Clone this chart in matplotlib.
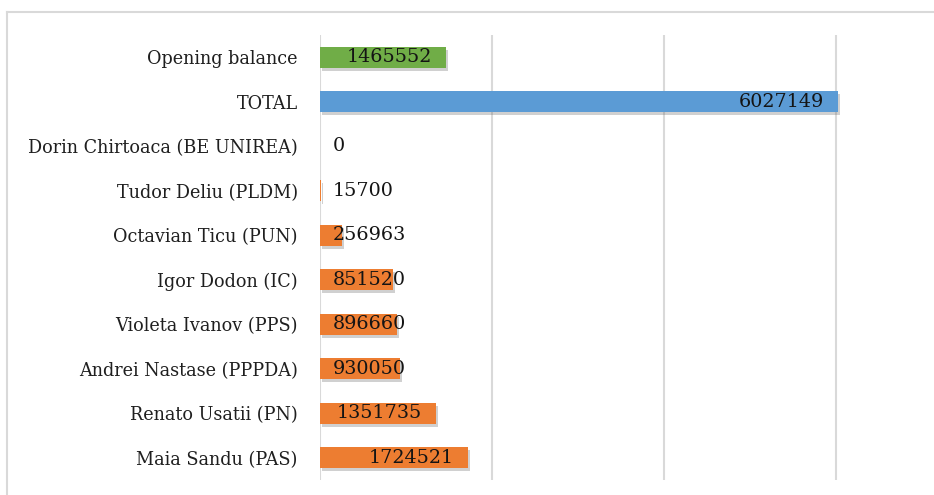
import matplotlib
matplotlib.use("Agg")
import matplotlib.pyplot as plt
import matplotlib.patheffects as pe
from matplotlib.lines import Line2D

categories = ["Opening balance", "TOTAL", "Dorin Chirtoaca (BE UNIREA)", "Tudor Deliu (PLDM)",
              "Octavian Ticu (PUN)", "Igor Dodon (IC)", "Violeta Ivanov (PPS)",
              "Andrei Nastase (PPPDA)", "Renato Usatii (PN)", "Maia Sandu (PAS)"]
values = [1465552, 6027149, 0, 15700, 256963, 851520, 896660, 930050, 1351735, 1724521]
colors = ["#70AD47", "#5B9BD5"] + ["#ED7D31"] * 8

W, H, DPI = 934, 495, 100
fig = plt.figure(figsize=(W / DPI, H / DPI), dpi=DPI)
fig.patch.set_facecolor("white")

# outer frame (left & top visible)
fig.add_artist(Line2D([7 / W, 7 / W], [0, 1 - 12 / H], transform=fig.transFigure, color="#D9D9D9", lw=1.5))
fig.add_artist(Line2D([7 / W, 1], [1 - 12 / H, 1 - 12 / H], transform=fig.transFigure, color="#D9D9D9", lw=1.5))

left, right, top, bottom = 320, 934, 35, 480
ax = fig.add_axes([left / W, 1 - bottom / H, (right - left) / W, (bottom - top) / H])
px_per_unit = 172 / 2_000_000
xmax = (right - left) / px_per_unit
ax.set_xlim(0, xmax)
ax.set_ylim(len(categories) - 0.5, -0.5)

for s in ax.spines.values():
    s.set_visible(False)
ax.set_xticks([0, 2_000_000, 4_000_000, 6_000_000])
ax.xaxis.grid(True, color="#D9D9D9", lw=1.5)
ax.set_axisbelow(True)
ax.tick_params(axis="x", length=0, labelbottom=False)
ax.tick_params(axis="y", length=0, pad=16)

ypos = list(range(len(categories)))
bars = ax.barh(ypos, values, height=0.47, color=colors, zorder=3)
for b in bars:
    b.set_path_effects([pe.SimplePatchShadow(offset=(1.5, -2.2), shadow_rgbFace="#666666", alpha=0.3), pe.Normal()])

ax.set_yticks(ypos)
ax.set_yticklabels(categories, fontfamily="DejaVu Serif", fontsize=12.7, color="#1f1f1f")
for lab in ax.get_yticklabels():
    lab.set_y(lab.get_position()[1])

texts = []
for y, v in zip(ypos, values):
    t = ax.text(0, y, f"{v}", fontfamily="DejaVu Serif", fontsize=13.8, color="#141414",
                va="center", ha="left", zorder=5)
    texts.append(t)

fig.canvas.draw()
renderer = fig.canvas.get_renderer()
min_left_px = 13
end_pad_px = 14
for t, v in zip(texts, values):
    w = t.get_window_extent(renderer).width
    bar_end_px = v * px_per_unit
    right_px = max(bar_end_px - end_pad_px, min_left_px + w)
    t.set_x((right_px - w) / px_per_unit)

fig.savefig("out.png", dpi=DPI, facecolor="white")
